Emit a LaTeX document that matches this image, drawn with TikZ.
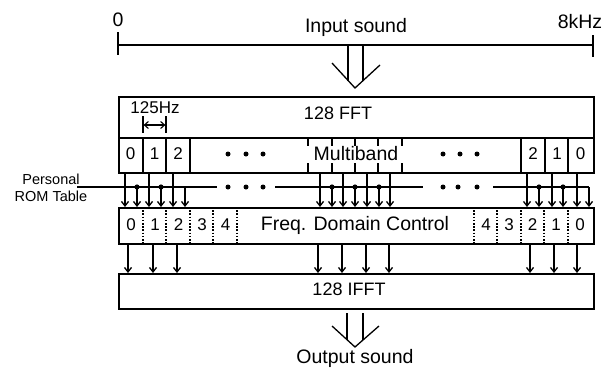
\documentclass[tikz,border=0pt]{standalone}
\usepackage{fontspec}
\setmainfont{Liberation Sans}
\usetikzlibrary{arrows.meta}
\begin{document}
\begin{tikzpicture}[x=1pt,y=-1pt,line width=1.3pt,
  boxst/.style={draw,line width=1.5pt,minimum width=475pt,anchor=north west,inner sep=0pt},
  sig/.style={-{Straight Barb[length=4.5pt,width=7pt]}},
  big/.style={font=\fontsize{19.5}{21}\selectfont,inner sep=0pt},
  mid/.style={font=\fontsize{18}{19}\selectfont,inner sep=0pt},
  cell/.style={font=\fontsize{17}{18}\selectfont,inner sep=0pt},
  small/.style={font=\fontsize{14.5}{17}\selectfont,inner sep=0pt,align=center},
  divd/.style={line width=1.1pt,dash pattern=on 1.6pt off 1.6pt},
  hollow/.style={line width=1.3pt,line join=miter}]
\useasboundingbox (0,0) rectangle (616,372);

% frequency axis
\coordinate (ax0) at (118,45);
\coordinate (ax1) at (593,45);
\draw (ax0) -- (ax1);
\draw (118,32) -- (118,55);
\draw (593,35) -- (593,57);
\node[big] (zero) at (118,20) {0};
\node[big] (khz) at (580,22) {8kHz};
\node[big] (insnd) at (356,27) {Input sound};

% input hollow arrow
\draw[hollow] (332,63) -- (355,88) -- (380,65);
\draw[hollow] (348,45) -- (348,80.5);
\draw[hollow] (363,45) -- (363,80.6);

% boxes
\node[boxst,minimum height=41pt] (fft) at (118,96) {};
\node[boxst,minimum height=35pt] (mb) at (118,137) {};
\node[boxst,minimum height=36pt] (fdc) at (118,207) {};
\node[boxst,minimum height=35pt] (ifft) at (118,273) {};

\node[mid] (fftl) at (338,113) {128 FFT};
\node[mid] (ifftl) at (349,289) {128 IFFT};
\node[big] (fdcl) at (355,225) {Freq. Domain Control};
\node[big] (mbl) at (356,154) {Multiband};

% 125 Hz marker
\node[cell] (hz) at (155,108) {125Hz};
\draw[line width=1.1pt] (143,116) -- (143,133);
\draw[line width=1.1pt] (166,116) -- (166,133);
\draw[line width=1.1pt,{Straight Barb[length=4pt,width=7pt]}-{Straight Barb[length=4pt,width=7pt]}] (143.6,125) -- (165.4,125);

% multiband cells
\foreach \x in {143,166,190,521,545,568}{
  \draw (\x,137) -- (\x,172);
}
\foreach \x in {308,332,355,378,402}{
  \draw (\x,137) -- (\x,146);
  \draw (\x,163) -- (\x,172);
}
\foreach \x/\t in {130.5/0,154.5/1,178/2,533/2,557/1,580.5/0}{
  \node[cell] at (\x,154) {\t};
}
\foreach \x in {228,246,263,443,460,477}{
  \fill (\x,154) circle (2.5pt);
}

% freq domain control cells
\foreach \x in {143,166,190,213,237,474,497,521,544,568}{
  \draw[divd] (\x,207) -- (\x,243);
}
\foreach \x/\t in {131/0,155/1,178.5/2,202/3,225.5/4,486/4,509/3,532.5/2,556/1,580/0}{
  \node[cell] at (\x,225) {\t};
}

% personal ROM table
\node[small] (rom) at (51,188) {Personal\\ROM Table};
\coordinate (r0) at (77,187);
\coordinate (r1) at (217,187);
\coordinate (r2) at (275,187);
\coordinate (r3) at (423,187);
\coordinate (r4) at (493,187);
\coordinate (r5) at (589,187);
\draw (r0) -- (r1);
\draw (r2) -- (r3);
\draw (r4) -- (r5);
\foreach \x in {228,246,263,443,458,477}{
  \fill (\x,187) circle (2.5pt);
}

% signal arrows multiband -> FDC
\foreach \x in {125,149,173,320,343,367,390,527,552,577}{
  \coordinate (t) at (\x,0);
  \draw[sig] (mb.south -| t) -- (fdc.north -| t);
}
% gain arrows ROM -> FDC
\foreach \x in {137,161,332,355,379,539,563}{
  \coordinate (t) at (\x,187);
  \fill (t) circle (2.6pt);
  \draw[sig] (t) -- (fdc.north -| t);
}
\foreach \x in {185}{
  \coordinate (t) at (\x,187);
  \draw[sig] (t) -- (fdc.north -| t);
}
\draw[sig] (r5) -- (fdc.north -| r5);

% FDC -> IFFT
\foreach \x in {128,153,177,318,342,366,389,530,554,577}{
  \coordinate (t) at (\x,0);
  \draw[sig] (fdc.south -| t) -- (ifft.north -| t);
}

% output hollow arrow
\draw[hollow] (332,326) -- (355,347) -- (379,326);
\draw[hollow] (347,313) -- (347,339.7);
\draw[hollow] (363,313) -- (363,340);
\node[big] (outsnd) at (355,358) {Output sound};
\end{tikzpicture}
\end{document}
